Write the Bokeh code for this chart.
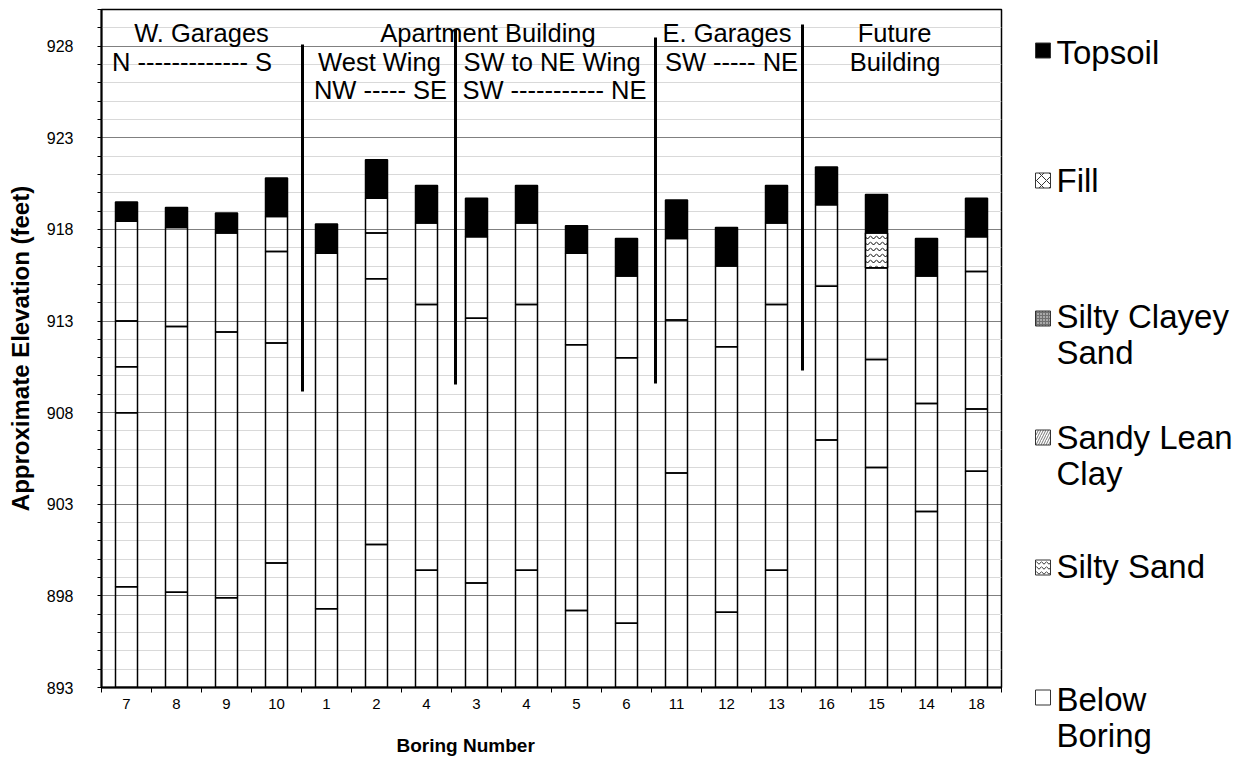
from bokeh.plotting import figure
from bokeh.models import Range1d, FixedTicker, Title, ColumnDataSource
from bokeh.layouts import row
from bokeh.embed import file_html
from bokeh.resources import INLINE
from bokeh.core.properties import value

FONT = "Liberation Sans"

# ---------------- data ----------------
borings = ["7", "8", "9", "10", "1", "2", "4", "3", "4", "5", "6",
           "11", "12", "13", "16", "15", "14", "18"]
ground_elev = [919.5, 919.2, 918.9, 920.8, 918.3, 921.8, 920.4, 919.7, 920.4,
               918.2, 917.5, 919.6, 918.1, 920.4, 921.4, 919.9, 917.5, 919.7]
topsoil_base = [918.45, 918.1, 917.8, 918.7, 916.7, 919.7, 918.35, 917.6, 918.35,
                916.7, 915.45, 917.5, 916.0, 918.35, 919.35, 917.8, 915.45, 917.6]
strata_breaks = [[913.0, 910.5, 908.0], [912.7], [912.4], [916.8, 911.8], [],
                 [917.8, 915.3], [913.9], [913.15], [913.9], [911.7], [911.0],
                 [913.05], [911.6], [913.9], [914.9], [915.9, 910.9], [908.5],
                 [915.7, 908.2]]
boring_bottom = [898.5, 898.2, 897.9, 899.8, 897.3, 900.8, 899.4, 898.7, 899.4,
                 897.2, 896.5, 904.7, 897.1, 899.4, 906.5, 905.0, 902.6, 904.8]
silty_sand_idx = [15]
silty_sand_top = [917.8]
silty_sand_base = [915.9]
base_elev = 893

y_major = [893, 898, 903, 908, 913, 918, 923, 928]

legend_lines = [["Topsoil"], ["Fill"], ["Silty Clayey", "Sand"],
                ["Sandy Lean", "Clay"], ["Silty Sand"], ["Below", "Boring"]]

# annotations (text, x, y)
ann_text = ["W. Garages", "Apartment Building", "E. Garages", "Future",
            "N ------------- S", "West Wing", "SW to NE Wing", "SW ----- NE", "Building",
            "NW ----- SE", "SW ----------- NE"]
ann_x = [2.0, 7.73, 12.51, 15.86, 1.81, 5.56, 9.01, 12.60, 15.87, 5.58, 9.06]
ann_y = [928.7, 928.7, 928.7, 928.7, 927.15, 927.15, 927.15, 927.15, 927.15,
         925.6, 925.6]
div_x = [4.02, 7.08, 11.08, 14.02]
div_top = [928.09, 928.91, 928.47, 929.18]
div_bottom = [909.15, 909.53, 909.59, 910.30]

# ---------------- main figure ----------------
n = len(borings)
p = figure(width=1006, height=764, x_range=Range1d(0, n), y_range=Range1d(893, 930),
           output_backend="svg", toolbar_location=None,
           min_border_left=101, min_border_right=5, min_border_top=9,
           min_border_bottom=77)
p.frame_align = False
p.background_fill_color = "white"
p.outline_line_color = "black"
p.outline_line_width = 1.5

xs = [i + 0.5 for i in range(n)]
BW = 0.44

# white strata segments
seg_x, seg_top, seg_bot = [], [], []
for i in range(n):
    elevs = [topsoil_base[i]] + strata_breaks[i] + [boring_bottom[i], base_elev]
    for a, b in zip(elevs[:-1], elevs[1:]):
        seg_x.append(xs[i]); seg_top.append(a); seg_bot.append(b)
p.vbar(x=seg_x, top=seg_top, bottom=seg_bot, width=BW, fill_color=None,
       line_color="black", line_width=1.5)

# silty sand
p.vbar(x=[xs[i] for i in silty_sand_idx], top=silty_sand_top, bottom=silty_sand_base,
       width=BW, fill_color="white", line_color="black", line_width=1.5,
       hatch_pattern="horizontal_wave", hatch_color="black", hatch_scale=6,
       hatch_weight=1)

# topsoil
p.vbar(x=xs, top=ground_elev, bottom=topsoil_base, width=BW, fill_color="black",
       line_color="black", line_width=1.5)

# dividers
p.segment(x0=div_x, y0=div_bottom, x1=div_x, y1=div_top, line_color="black",
          line_width=3)

# annotations
p.text(x=ann_x, y=ann_y, text=ann_text, text_font=value(FONT),
       text_font_size="25.5px", text_align="center", text_baseline="alphabetic",
       text_color="black")

# axes
p.xaxis.ticker = FixedTicker(ticks=xs, minor_ticks=list(range(n + 1)))
p.xaxis.major_label_overrides = {x: b for x, b in zip(xs, borings)}
p.xaxis.major_tick_out = 0
p.xaxis.major_tick_in = 0
p.xaxis.minor_tick_out = 5
p.xaxis.minor_tick_in = 0
p.xaxis.major_label_standoff = 6
p.xaxis.major_label_text_font = FONT
p.xaxis.major_label_text_font_size = "15px"
p.xaxis.major_label_text_color = "black"

p.yaxis.ticker = FixedTicker(ticks=y_major,
                             minor_ticks=[v for v in range(893, 931) if (v - 893) % 5])
p.yaxis.major_tick_out = 4
p.yaxis.major_tick_in = 0
p.yaxis.minor_tick_out = 4
p.yaxis.minor_tick_in = 0
p.yaxis.major_label_standoff = 24
p.yaxis.major_label_text_font = FONT
p.yaxis.major_label_text_font_size = "16px"
p.yaxis.major_label_text_color = "black"
p.yaxis.axis_label = "Approximate Elevation (feet)"
p.yaxis.axis_label_text_font = FONT
p.yaxis.axis_label_text_font_style = "bold"
p.yaxis.axis_label_text_font_size = "24px"
p.yaxis.axis_label_standoff = 10
p.yaxis.axis_label_text_color = "black"

for ax in (p.xaxis, p.yaxis):
    ax.axis_line_color = "black"
    ax.axis_line_width = 2
    ax.major_tick_line_color = "black"
    ax.minor_tick_line_color = "black"

p.xgrid.visible = False
p.ygrid.grid_line_color = "black"
p.ygrid.grid_line_dash = "1 1"
p.ygrid.grid_line_width = 1
p.ygrid.minor_grid_line_color = "#d9d9d9"
p.ygrid.minor_grid_line_width = 1

p.add_layout(Title(text="\nBoring Number", align="left", offset=295, standoff=0,
                   text_font=FONT, text_font_style="bold", text_font_size="19px",
                   text_color="black"), "below")

# ---------------- legend figure ----------------
LH = 762
leg = figure(width=230, height=LH, x_range=Range1d(0, 230), y_range=Range1d(LH, 0),
             output_backend="svg", toolbar_location=None, min_border=0,
             x_axis_type=None, y_axis_type=None)
leg.frame_align = False
leg.grid.visible = False
leg.outline_line_color = None

icon_cy = [50, 180, 318, 437, 567, 697]
first_base = [52, 180, 316, 437, 566, 699]
line_gap = 36

icon_src = ColumnDataSource(dict(
    x=[36.5] * 6, y=icon_cy,
    fill=["black", "white", "#707070", "white", "white", "white"],
    hatch=[" ", "x", ".", "/", "v", " "],
    hcol=["black", "#333333", "white", "#555555", "#333333", "black"],
    hscale=[6, 10, 3, 5, 5, 6],
    hweight=[1, 1, 1, 0.8, 1, 1],
))
leg.rect(x="x", y="y", width=15, height=15, source=icon_src, fill_color="fill",
         line_color="#333333", line_width=1, hatch_pattern="hatch",
         hatch_color="hcol", hatch_scale="hscale", hatch_weight="hweight")

tx, ty, tt = [], [], []
for k, lines in enumerate(legend_lines):
    for j, ln in enumerate(lines):
        tx.append(50); ty.append(first_base[k] + j * line_gap); tt.append(ln)
leg.text(x=tx, y=ty, text=tt, text_font=value(FONT), text_font_size="33px",
         text_align="left", text_baseline="alphabetic", text_color="black")

layout = row(p, leg)
open("out.html", "w").write(file_html(layout, INLINE))
